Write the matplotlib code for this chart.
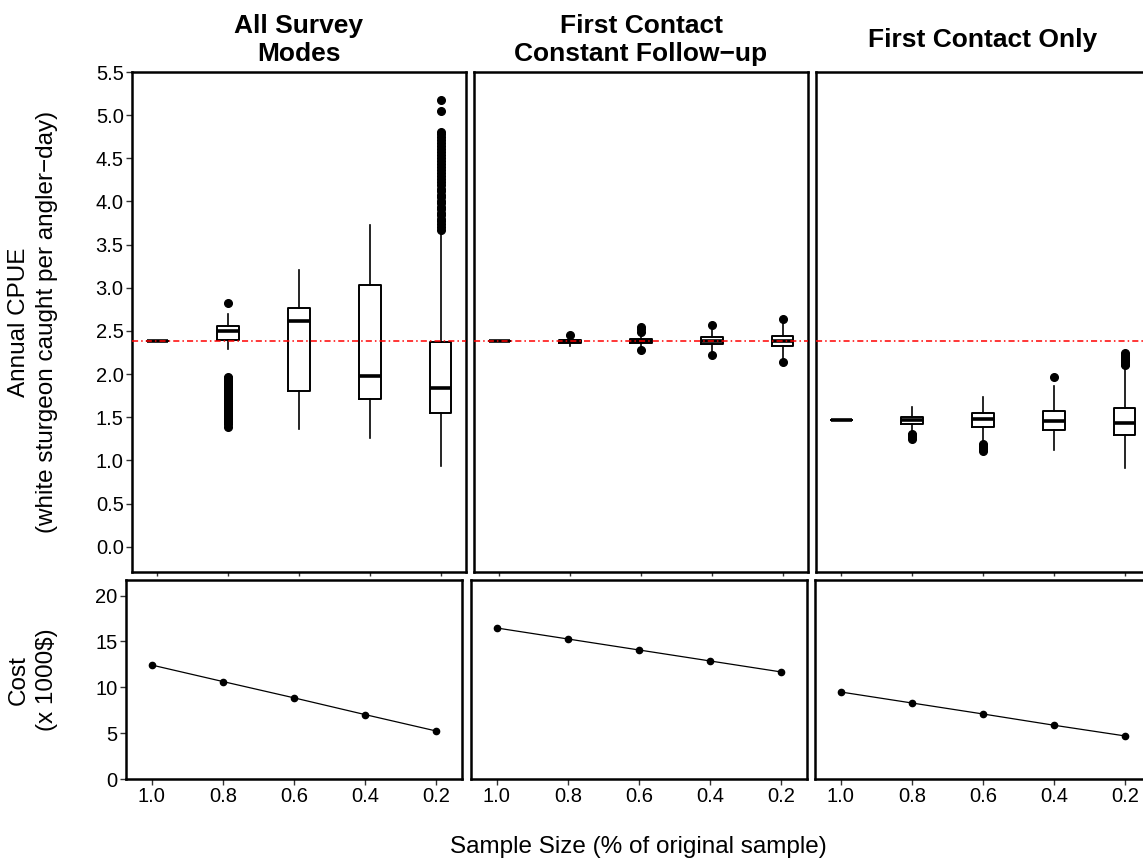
import matplotlib
matplotlib.use("Agg")
import matplotlib.pyplot as plt

plt.rcParams['font.family'] = ['Liberation Sans', 'DejaVu Sans']

# categories (sample size fraction), shown left to right
sizes = ['1.0', '0.8', '0.6', '0.4', '0.2']
panel_titles = ['All Survey\nModes', 'First Contact\nConstant Follow\u2212up', 'First Contact Only']
ref_cpue = 2.38

# box statistics per panel: q1, median, q3, lower whisker, upper whisker
all_q1 = [2.383, 2.40, 1.80, 1.715, 1.55]
all_med = [2.383, 2.50, 2.62, 1.98, 1.835]
all_q3 = [2.383, 2.56, 2.76, 3.03, 2.375]
all_lo = [2.383, 2.29, 1.36, 1.26, 0.94]
all_hi = [2.383, 2.70, 3.21, 3.73, 3.63]
all_fliers = [
    [],
    [2.82, 1.97, 1.95, 1.94, 1.92, 1.90, 1.89, 1.87, 1.85, 1.83, 1.82, 1.80, 1.78,
     1.76, 1.75, 1.73, 1.71, 1.69, 1.67, 1.66, 1.64, 1.62, 1.60, 1.58, 1.57, 1.55,
     1.53, 1.51, 1.49, 1.48, 1.46, 1.44, 1.42, 1.39],
    [],
    [],
    [5.17, 5.05, 4.81, 4.78, 4.75, 4.71, 4.68, 4.64, 4.61, 4.57, 4.54, 4.50, 4.47,
     4.43, 4.40, 4.36, 4.33, 4.29, 4.26, 4.22, 4.19, 4.15, 4.12, 4.08, 4.05, 4.01,
     3.98, 3.94, 3.91, 3.87, 3.84, 3.80, 3.77, 3.74, 3.70, 3.67],
]

fcf_q1 = [2.38, 2.365, 2.36, 2.345, 2.325]
fcf_med = [2.38, 2.38, 2.385, 2.38, 2.38]
fcf_q3 = [2.38, 2.40, 2.41, 2.425, 2.445]
fcf_lo = [2.38, 2.325, 2.32, 2.26, 2.18]
fcf_hi = [2.38, 2.43, 2.46, 2.51, 2.59]
fcf_fliers = [[], [2.45], [2.55, 2.52, 2.49, 2.28], [2.57, 2.22], [2.64, 2.14]]

fco_q1 = [1.468, 1.42, 1.39, 1.352, 1.294]
fco_med = [1.468, 1.468, 1.476, 1.457, 1.43]
fco_q3 = [1.468, 1.506, 1.545, 1.576, 1.61]
fco_lo = [1.468, 1.33, 1.205, 1.12, 0.91]
fco_hi = [1.468, 1.615, 1.73, 1.86, 2.07]
fco_fliers = [[], [1.31, 1.29, 1.27, 1.25], [1.19, 1.17, 1.15, 1.13, 1.11], [1.97],
              [2.24, 2.22, 2.20, 2.18, 2.16, 2.14, 2.12, 2.10]]

# cost (x 1000$)
cost_all = [12.43, 10.63, 8.85, 7.02, 5.23]
cost_fcf = [16.47, 15.27, 14.07, 12.87, 11.67]
cost_fco = [9.49, 8.29, 7.09, 5.86, 4.69]

box_sets = [
    (all_q1, all_med, all_q3, all_lo, all_hi, all_fliers),
    (fcf_q1, fcf_med, fcf_q3, fcf_lo, fcf_hi, fcf_fliers),
    (fco_q1, fco_med, fco_q3, fco_lo, fco_hi, fco_fliers),
]
costs = [cost_all, cost_fcf, cost_fco]

W, H = 1143, 863
fig = plt.figure(figsize=(W / 100, H / 100), dpi=100)

top_left = [132, 474, 816]
bot_left = [126, 471, 815]
pos = list(range(1, 6))


def px_rect(x0, y0, x1, y1):
    return [x0 / W, (H - y1) / H, (x1 - x0) / W, (y1 - y0) / H]


def style_axes(ax, show_y):
    for s in ax.spines.values():
        s.set_linewidth(1.8)
        s.set_color('black')
    ax.tick_params(axis='both', direction='out', length=4, width=1, color='#333333',
                   labelsize=14.5, labelcolor='black', pad=2)
    if not show_y:
        ax.tick_params(axis='y', left=False, labelleft=False)


for i in range(3):
    q1, med, q3, lo, hi, fl = box_sets[i]
    ax = fig.add_axes(px_rect(top_left[i], 72, top_left[i] + 334, 572))
    stats = []
    for k in range(5):
        stats.append(dict(q1=q1[k], med=med[k], q3=q3[k], whislo=lo[k], whishi=hi[k], fliers=fl[k]))
    ax.bxp(stats, positions=pos, widths=0.31, showcaps=False, patch_artist=False,
           boxprops=dict(color='black', linewidth=1.4),
           medianprops=dict(color='black', linewidth=2.6),
           whiskerprops=dict(color='black', linewidth=1.2),
           flierprops=dict(marker='o', markerfacecolor='black', markeredgecolor='black',
                           markersize=5.5, linestyle='none'))
    ax.axhline(ref_cpue, color='red', linewidth=1.1, dashes=(4, 2, 1, 2), zorder=3)
    ax.set_xlim(0.64, 5.36)
    ax.set_ylim(-0.293, 5.5)
    ax.set_xticks(pos)
    ax.set_xticklabels([])
    ax.set_yticks([0, 0.5, 1, 1.5, 2, 2.5, 3, 3.5, 4, 4.5, 5, 5.5])
    ax.set_yticklabels(['0.0', '0.5', '1.0', '1.5', '2.0', '2.5', '3.0', '3.5',
                        '4.0', '4.5', '5.0', '5.5'])
    style_axes(ax, i == 0)
    ax.tick_params(axis='x', length=3)
    fig.text((top_left[i] + 167) / W, (H - 40) / H, panel_titles[i], ha='center', va='center',
             fontsize=19, fontweight='bold', linespacing=1.2)

    bx = fig.add_axes(px_rect(bot_left[i], 580, bot_left[i] + 336, 779))
    bx.plot(pos, costs[i], color='black', linewidth=0.9, marker='o', markersize=4.5)
    bx.set_xlim(0.64, 5.36)
    bx.set_ylim(0, 21.7)
    bx.set_xticks(pos)
    bx.set_xticklabels(sizes)
    bx.set_yticks([0, 5, 10, 15, 20])
    style_axes(bx, i == 0)

fig.text(33 / W, (H - 322) / H, 'Annual CPUE\n(white sturgeon caught per angler\u2212day)',
         rotation=90, ha='center', va='center', fontsize=17.5, linespacing=1.35)
fig.text(33 / W, (H - 680) / H, 'Cost\n(x 1000$)',
         rotation=90, ha='center', va='center', fontsize=17.5, linespacing=1.35)
fig.text(638 / W, (H - 847) / H, 'Sample Size (% of original sample)',
         ha='center', va='center', fontsize=17.5)

fig.savefig('out.png', dpi=100, facecolor='white')
